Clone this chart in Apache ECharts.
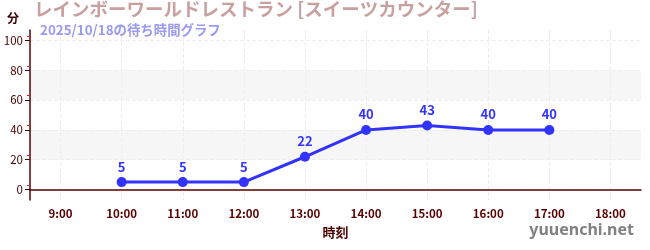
<!DOCTYPE html>
<html><head><meta charset="utf-8">
<script src="https://cdn.jsdelivr.net/npm/echarts@6/dist/echarts.min.js"></script>
<style>html,body{margin:0;padding:0;background:#fff}#c{width:650px;height:250px}</style>
</head><body><div id="c"></div>
<script>
const categories = ['9:00','10:00','11:00','12:00','13:00','14:00','15:00','16:00','17:00','18:00'];
const waitMinutes = [null, 5, 5, 5, 22, 40, 43, 40, 40, null];
const yTickValues = [0, 20, 40, 60, 80, 100];
const titleText = 'レインボーワールドレストラン [スイーツカウンター]';
const subtitleText = '2025/10/18の待ち時間グラフ';
const yName = '分';
const xName = '時刻';
const watermark = 'yuuenchi.net';

const font = '"Noto Sans CJK JP", "Noto Sans", sans-serif';
const narrow = '"Liberation Sans Narrow", "Noto Sans CJK JP", sans-serif';
const chart = echarts.init(document.getElementById('c'));
chart.setOption({
  animation: false,
  textStyle: { fontFamily: font },
  title: [
    { text: titleText, left: 34, top: 0, padding: 0,
      textStyle: { color: '#c8a0a0', fontSize: 18.5, fontWeight: 'bold', fontFamily: font } },
    { text: subtitleText, left: 40, top: 23, padding: 0,
      textStyle: { color: '#9a9af0', fontSize: 13.4, fontWeight: 'bold', fontFamily: font } }
  ],
  graphic: [{
    type: 'text', right: 16, top: 222,
    style: { text: watermark, fill: '#808080', font: 'bold 16px "Noto Sans", sans-serif' }
  }],
  grid: { left: 30, right: 9, top: 30, bottom: 50 },
  xAxis: {
    type: 'category', data: categories, boundaryGap: true,
    name: xName, nameLocation: 'middle', nameGap: 26,
    nameTextStyle: { color: '#4a0000', fontSize: 13, fontWeight: 'bold', fontFamily: font },
    axisLine: { lineStyle: { color: '#5a0000', width: 1.5 } },
    axisTick: { alignWithLabel: true, length: 4, lineStyle: { color: '#888', width: 2 } },
    axisLabel: { color: '#5a0000', fontSize: 11.5, fontWeight: 'bold', margin: 8, fontFamily: narrow },
    splitLine: { show: true, alignWithLabel: true, lineStyle: { color: '#eee', type: 'dashed' } }
  },
  yAxis: {
    type: 'value', min: -7, max: 107, interval: 20,
    name: yName, nameLocation: 'end', nameGap: 0,
    nameTextStyle: { color: '#3a0000', fontSize: 12, fontWeight: 'bold', align: 'right', verticalAlign: 'bottom', padding: [0, 11, 6, 0] },
    axisLine: { show: true, lineStyle: { color: '#5a0000', width: 1.5 } },
    axisTick: { show: true, length: 5, lineStyle: { color: '#3a0000' }, customValues: yTickValues },
    minorTick: { show: true, splitNumber: 2, length: 3, lineStyle: { color: '#dd2222' } },
    axisLabel: { color: '#4a0000', fontSize: 11.5, margin: 7, fontFamily: narrow, customValues: yTickValues },
    splitLine: { show: true, lineStyle: { color: '#eee', type: 'dashed' } },
    splitArea: { show: true, areaStyle: { color: ['rgba(0,0,0,0)', '#f6f6f6'] } }
  },
  series: [{
    type: 'line', data: waitMinutes,
    symbol: 'circle', symbolSize: 10,
    lineStyle: { color: '#3333ff', width: 3 },
    itemStyle: { color: '#3333ff' },
    label: { show: true, position: 'top', color: '#3333ff', fontSize: 13, fontWeight: 'bold', distance: 4 }
  }]
});
</script></body></html>
